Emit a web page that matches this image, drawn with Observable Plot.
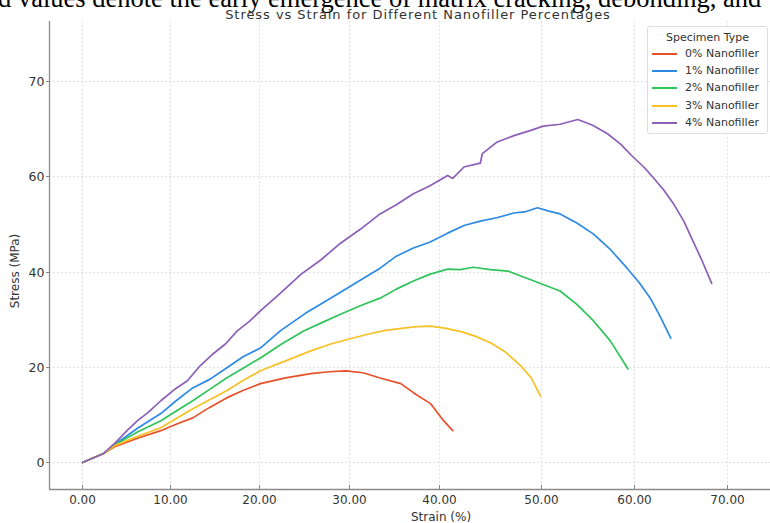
<!DOCTYPE html>
<html><head><meta charset="utf-8">
<script src="https://cdn.jsdelivr.net/npm/d3@7"></script>
<script src="https://cdn.jsdelivr.net/npm/@observablehq/plot@0.6"></script>
<style>
body{margin:0;background:#fff;}
#wrap{position:relative;width:770px;height:523px;overflow:hidden;font-family:"DejaVu Sans",sans-serif;color:#333;}
#chart{position:absolute;left:0;top:0;}
#caption{position:absolute;left:-2px;top:-15px;font-family:"Liberation Serif",serif;font-size:26.5px;line-height:26.5px;white-space:nowrap;color:#000;}
#title{position:absolute;left:168px;width:500px;top:8px;text-align:center;font-size:13px;line-height:14px;letter-spacing:0.95px;color:#333;}
.axlab{position:absolute;font-size:12px;line-height:14px;color:#333;white-space:nowrap;}
#xlab{left:411px;top:510px;width:60px;text-align:center;}
#ylab{left:-25px;top:264px;width:80px;text-align:center;transform:rotate(-90deg);}
#legend{position:absolute;left:647px;top:26px;width:119px;height:106px;border:1px solid #ddd;border-radius:3px;background:rgba(255,255,255,0.85);font-size:11px;}
#legend .lt{position:absolute;left:0;width:119px;top:4px;text-align:center;}
#legend .row{position:absolute;left:4px;height:14px;line-height:14px;}
#legend .sw{position:absolute;left:0;top:6px;width:25px;height:2px;}
#legend .tx{position:absolute;left:33px;top:0;white-space:nowrap;}
</style></head>
<body>
<div id="wrap">
  <div id="chart"></div>
  <div id="caption"></div>
  <div id="title"></div>
  <div id="xlab" class="axlab"></div>
  <div id="ylab" class="axlab"></div>
  <div id="legend"></div>
</div>
<script>
// ---- data ----
const captionText = "d values denote the early emergence of matrix cracking, debonding, and";
const titleText = "Stress vs Strain for Different Nanofiller Percentages";
const xLabel = "Strain (%)";
const yLabel = "Stress (MPa)";
const legendTitle = "Specimen Type";
const seriesNames = ["0% Nanofiller","1% Nanofiller","2% Nanofiller","3% Nanofiller","4% Nanofiller"];
const seriesColors = ["#e8502a","#2b8ae6","#2ec45a","#f6c026","#8c5fb8"];
const xTicks = [0,10,20,30,40,50,60,70];
const yTicks = [0,20,40,60,70];

const strain0 = [0,2.4,3.75,6.25,8.9,10.7,12.5,14.4,16.3,18.2,20.1,22.9,25.7,27.7,29.6,31.5,33.4,35.7,37.1,39.0,40.4,41.3];
const stress0 = [0,1.9,3.4,5.1,6.7,8.1,9.4,11.6,13.6,15.2,16.6,17.8,18.7,19.1,19.3,18.9,17.8,16.6,14.7,12.4,8.8,6.7];

const strain1 = [0,2.4,3.75,6.25,8.9,10.7,12.5,14.4,16.3,18.2,20.1,22.3,25.1,27.9,30.6,33.4,35.2,37.1,38.9,40.8,42.4,44.0,45.6,47.3,48.5,49.6,50.8,52.0,53.8,55.6,57.4,59.2,60.5,61.7,62.8,63.9];
const stress1 = [0,1.9,3.9,7.2,10.3,13.1,15.7,17.5,19.9,22.3,24.1,27.7,31.4,34.6,37.7,40.9,43.4,45.1,46.3,48.2,49.8,50.7,51.4,52.4,52.7,53.5,52.8,52.2,50.3,48.0,44.8,40.9,37.9,34.6,30.6,26.2];

const strain2 = [0,2.4,3.75,6.25,8.9,10.7,12.5,14.4,16.3,18.2,20.1,22.5,24.9,27.0,29.0,31.2,33.4,35.2,37.1,38.9,40.8,42.0,43.3,45.0,46.7,48.3,49.9,52.0,53.8,55.6,57.4,59.3];
const stress2 = [0,1.9,3.8,6.4,8.8,10.9,13.0,15.4,17.8,19.9,22.0,25.0,27.7,29.5,31.2,33.0,34.6,36.5,38.2,39.6,40.7,40.6,41.1,40.6,40.3,39.0,37.7,36.1,33.3,29.8,25.6,19.7];

const strain3 = [0,2.4,3.75,6.25,8.9,10.7,12.5,14.4,16.3,18.2,20.1,22.9,25.7,28.0,30.0,32.0,34.0,36.0,37.5,39.0,40.5,42.0,43.5,45.0,46.5,48.0,49.0,49.9];
const stress3 = [0,1.9,3.6,5.5,7.3,9.3,11.3,13.2,15.1,17.3,19.3,21.4,23.5,25.0,26.0,27.0,27.8,28.3,28.6,28.7,28.3,27.6,26.6,25.2,23.2,20.3,17.8,14.0];

const strain4 = [0,2.4,3.75,5.0,6.25,7.5,8.9,10.4,11.9,13.3,14.8,16.2,17.5,18.8,20.1,22.3,24.6,26.8,29.0,31.2,33.4,35.2,37.1,38.9,40.8,41.3,42.4,44.0,44.2,45.6,47.3,48.8,50.2,52.0,53.9,55.5,57.1,58.5,59.9,61.0,62.0,63.1,64.2,65.3,66.3,67.3,68.3];
const stress4 = [0,1.9,4.2,6.6,8.8,10.6,13.0,15.3,17.2,20.3,22.9,25.0,27.7,29.6,31.9,35.6,39.6,42.6,46.1,49.0,52.2,54.1,56.4,58.0,60.1,59.6,61.0,61.4,62.4,63.6,64.3,64.8,65.3,65.5,66.0,65.4,64.5,63.4,62.0,61.0,59.8,57.3,54.3,50.7,46.5,42.3,37.7];

// ---- layout (the reference axes are piecewise: tick spacing is not uniform) ----
const W = 770, H = 523;
const xDomain = [-3.75,0,10,20,30,40,50,60,70,74.6];
const xRange  = [49,82,170,259,349,439,541,634,727,770];
const yDomain = [-5.66,0,20,40,60,70,76.3];
const yRange  = [489,462,367,272,176,81,21];

const strains = [strain0,strain1,strain2,strain3,strain4];
const stresses = [stress0,stress1,stress2,stress3,stress4];
const data = [];
seriesNames.forEach((name,i) => {
  strains[i].forEach((s,j) => data.push({series:name, strain:s, stress:stresses[i][j]}));
});

const gridStyle = {stroke:"#cfcfcf", strokeOpacity:1, strokeWidth:0.8, strokeDasharray:"1.5,2.5"};
const chart = Plot.plot({
  width: W, height: H,
  marginLeft: 49, marginRight: 0, marginTop: 21, marginBottom: 34,
  style: {fontFamily: "DejaVu Sans", fontSize: "12px", color: "#333", background: "transparent"},
  x: {type: "linear", domain: xDomain, range: xRange},
  y: {type: "linear", domain: yDomain, range: yRange},
  color: {domain: seriesNames, range: seriesColors},
  marks: [
    Plot.gridX(xTicks, gridStyle),
    Plot.gridY(yTicks, gridStyle),
    Plot.ruleX([xDomain[0]], {stroke:"#8a8a8a", strokeWidth:1.3}),
    Plot.ruleY([yDomain[0]], {stroke:"#8a8a8a", strokeWidth:1.3}),
    Plot.axisX(xTicks, {tickSize: 4, dy: -4, tickFormat: () => "", label: null, stroke:"#8a8a8a"}),
    Plot.axisX(xTicks, {tickSize: 0, tickPadding: 6, tickFormat: d => d.toFixed(2), label: null, fill:"#333", fontSize: 12}),
    Plot.axisY(yTicks, {tickSize: 3, tickPadding: 2, tickFormat: d => String(d), label: null, stroke:"#8a8a8a", fill:"#333", fontSize: 12.5}),
    Plot.line(data, {x: "strain", y: "stress", stroke: "series", z: "series", strokeWidth: 1.7, strokeLinejoin: "round"})
  ]
});
document.getElementById("chart").appendChild(chart);

document.getElementById("caption").textContent = captionText;
document.getElementById("title").textContent = titleText;
document.getElementById("xlab").textContent = xLabel;
document.getElementById("ylab").textContent = yLabel;

const leg = document.getElementById("legend");
const lt = document.createElement("div"); lt.className = "lt"; lt.textContent = legendTitle; leg.appendChild(lt);
seriesNames.forEach((name,i) => {
  const row = document.createElement("div"); row.className = "row";
  row.style.top = (20 + i*17.2) + "px";
  const sw = document.createElement("div"); sw.className = "sw"; sw.style.background = seriesColors[i];
  const tx = document.createElement("div"); tx.className = "tx"; tx.textContent = name;
  row.appendChild(sw); row.appendChild(tx); leg.appendChild(row);
});
</script>
</body></html>
